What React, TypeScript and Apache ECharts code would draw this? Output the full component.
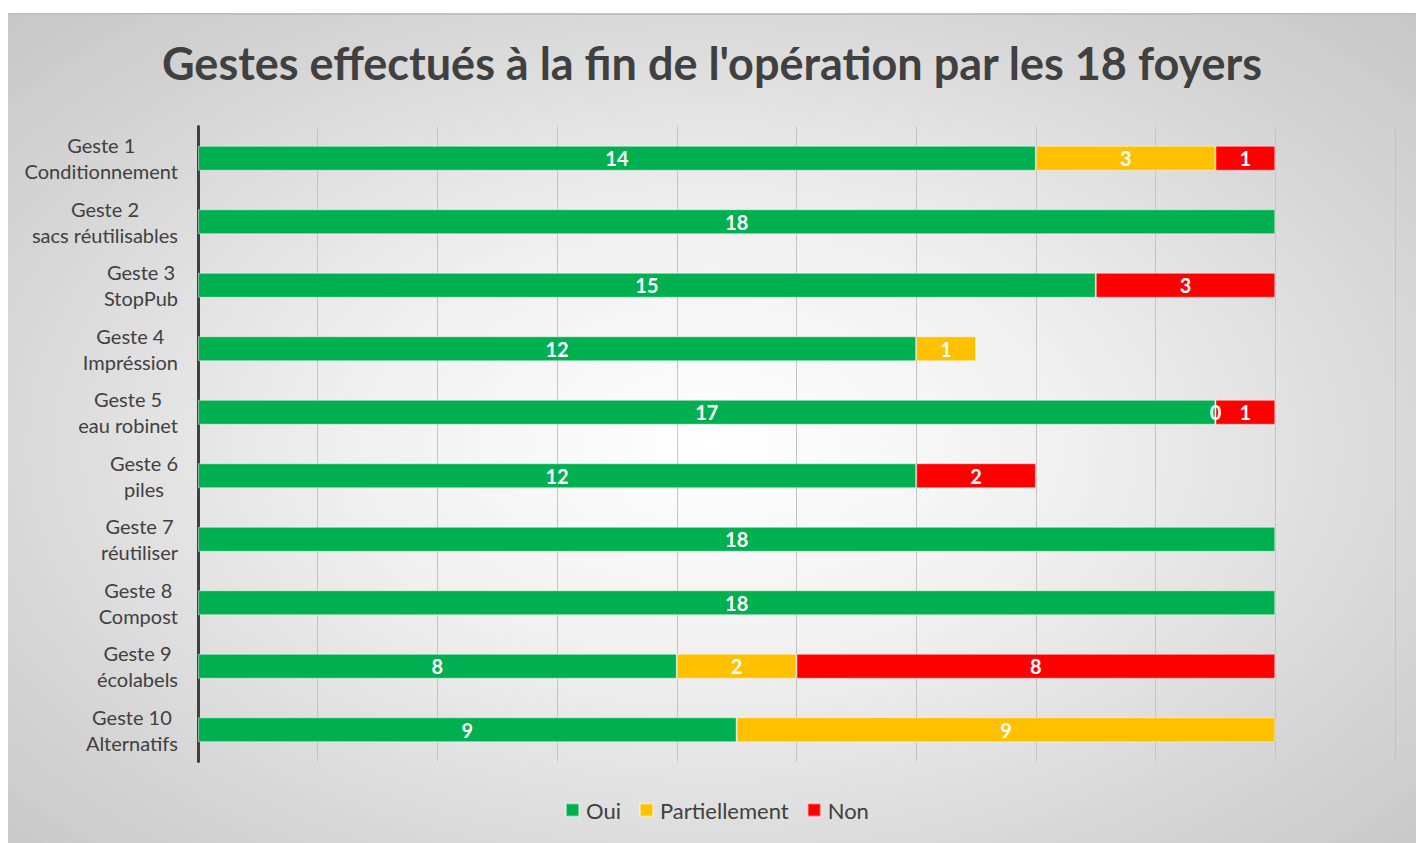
import React, { useEffect, useRef } from "react";
import * as echarts from "echarts";

const categories = [
  "Geste 1\nConditionnement",
  "Geste 2\nsacs réutilisables",
  "Geste 3\nStopPub",
  "Geste 4\nImpréssion",
  "Geste 5\neau robinet",
  "Geste 6\npiles",
  "Geste 7\nréutiliser",
  "Geste 8\nCompost",
  "Geste 9\nécolabels",
  "Geste 10\nAlternatifs",
];
const oui = [14, 18, 15, 12, 17, 12, 18, 18, 8, 9];
const partiellement = [3, null, null, 1, 0, null, null, null, 2, 9];
const non = [1, null, 3, null, 1, 2, null, null, 8, null];
const titleText = "Gestes effectués à la fin de l'opération par les 18 foyers";

const FONT = "Lato";

export default function App() {
  const ref = useRef<HTMLDivElement>(null);
  useEffect(() => {
    if (!ref.current) return;
    const chart = echarts.init(ref.current, null, { renderer: "svg" });
    const label = {
      show: true,
      position: "inside",
      color: "#ffffff",
      fontFamily: FONT,
      fontWeight: "bold",
      fontSize: 20,
    };
    const mk = (name: string, data: any[], color: string) => ({
      name,
      type: "bar",
      stack: "total",
      barWidth: 25,
      data,
      itemStyle: { color, borderColor: "rgba(255,255,255,0.45)", borderWidth: 1 },
      label,
    });
    chart.setOption({
      animation: false,
      backgroundColor: "transparent",
      title: {
        text: titleText,
        left: "center",
        top: 20,
        textStyle: { fontFamily: FONT, fontWeight: "bold", fontSize: 45, color: "#404040" },
      },
      legend: {
        bottom: 17,
        left: 552,
        icon: "rect",
        itemWidth: 13,
        itemHeight: 13,
        itemGap: 18,
        textStyle: { fontFamily: FONT, fontSize: 22, color: "#404040", padding: [0, 0, 0, 2] },
        data: ["Oui", "Partiellement", "Non"],
      },
      grid: { left: 190, right: 21, top: 111.5, bottom: 81.5, containLabel: false },
      xAxis: {
        type: "value",
        min: 0,
        max: 20,
        interval: 2,
        axisLabel: { show: false },
        axisLine: { show: false },
        axisTick: { show: false },
        splitLine: { show: true, lineStyle: { color: "#c4c4c4", width: 1 } },
      },
      yAxis: {
        type: "category",
        inverse: true,
        data: categories,
        axisLine: { show: true, lineStyle: { color: "#404040", width: 3 } },
        axisTick: { show: false },
        axisLabel: {
          margin: 20,
          fontFamily: FONT,
          fontSize: 20,
          color: "#404040",
          lineHeight: 26,
          formatter: (v: string) =>
            v
              .split("\n")
              .map((s) => "{c|" + s + "}")
              .join("\n"),
          rich: { c: { align: "center", fontFamily: FONT, fontSize: 20, color: "#404040", lineHeight: 26 } },
        },
      },
      series: [
        mk("Oui", oui, "#00b050"),
        mk("Partiellement", partiellement, "#ffc000"),
        mk("Non", non, "#ff0000"),
      ],
    });
    return () => chart.dispose();
  }, []);
  return (
    <div
      style={{
        position: "absolute",
        left: 8,
        top: 13,
        width: 1408,
        height: 830,
        boxSizing: "border-box",
        borderTop: "2px solid #c0c0c0",
        background:
          "radial-gradient(ellipse 72% 75% at 50% 52%, #ffffff 0%, #f0f0f0 35%, #d8d8d8 70%, #c6c6c6 100%)",
      }}
    >
      <div ref={ref} style={{ width: 1408, height: 828 }} />
    </div>
  );
}
